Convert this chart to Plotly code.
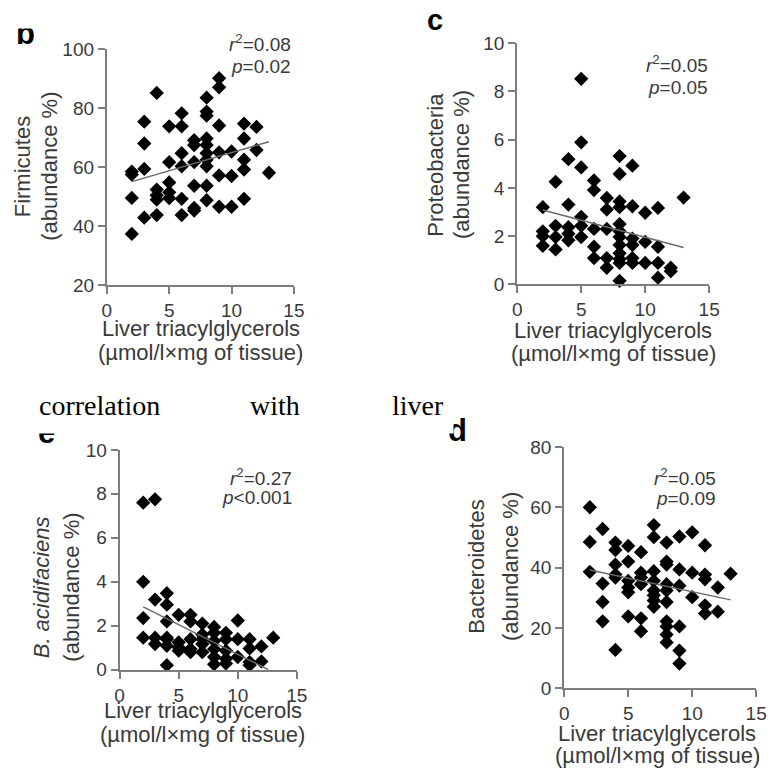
import plotly.graph_objects as go

W, H = 776, 781

# ---------------- data ----------------
# Panel b: Firmicutes
firm_x = [2, 2, 2, 2,
          3, 3, 3, 3,
          4, 4, 4, 4, 4,
          5, 5, 5, 5, 5,
          6, 6, 6, 6, 6, 6,
          7, 7, 7, 7, 7, 7,
          8, 8, 8, 8, 8, 8, 8, 8, 8, 8,
          9, 9, 9, 9, 9, 9,
          10, 10, 10,
          11, 11, 11, 11, 11,
          12, 12,
          13]
firm_y = [58.5, 57.5, 49.6, 37.4,
          75.4, 68.0, 59.4, 42.9,
          85.1, 52.4, 50.5, 49.0, 43.8,
          73.8, 61.7, 54.8, 51.5, 49.5,
          78.2, 73.8, 64.7, 60.3, 49.3, 43.8,
          69.1, 67.5, 61.7, 53.7, 46.2, 45.3,
          83.5, 78.8, 77.4, 69.7, 67.5, 64.7, 62.5, 60.3, 53.7, 48.8,
          90.1, 87.0, 74.1, 65.0, 57.2, 46.6,
          65.3, 57.0, 46.6,
          74.7, 69.7, 62.5, 59.2, 49.3,
          73.6, 65.8,
          58.1]
firm_fit_x = [2, 13]
firm_fit_y = [55.1, 68.6]

# Panel c: Proteobacteria
prot_x = [2, 2, 2, 2,
          3, 3, 3, 3,
          4, 4, 4, 4, 4,
          5, 5, 5, 5, 5, 5,
          6, 6, 6, 6, 6,
          7, 7, 7, 7, 7,
          8, 8, 8, 8, 8, 8, 8, 8, 8, 8, 8, 8,
          9, 9, 9, 9, 9, 9,
          10, 10, 10,
          11, 11, 11, 11,
          12, 12,
          13]
prot_y = [3.2, 2.2, 2.0, 1.6,
          4.25, 2.43, 1.96, 1.45,
          5.19, 3.31, 2.37, 2.1, 1.83,
          8.52, 5.89, 4.85, 2.8, 2.43, 1.96,
          4.31, 3.91, 2.3, 1.56, 1.09,
          3.58, 3.1, 2.3, 1.09, 0.69,
          5.32, 4.58, 3.44, 3.2, 2.5, 2.2, 1.96, 1.63, 1.29, 1.05, 0.89, 0.15,
          4.92, 3.24, 1.9, 1.63, 1.09, 0.89,
          2.97, 1.76, 0.89,
          3.17, 1.56, 0.89, 0.28,
          0.69, 0.55,
          3.6]
prot_fit_x = [2, 13]
prot_fit_y = [3.08, 1.53]

# Panel e: B. acidifaciens
bac_x = [2, 2, 2, 2,
         3, 3, 3, 3,
         4, 4, 4, 4, 4, 4, 4,
         5, 5, 5, 5,
         6, 6, 6, 6, 6,
         7, 7, 7, 7, 7,
         8, 8, 8, 8, 8, 8,
         9, 9, 9, 9, 9,
         10, 10, 10,
         11, 11, 11, 11,
         12, 12,
         13]
bac_y = [7.6, 4.0, 2.35, 1.46,
         7.75, 3.19, 1.46, 1.17,
         3.48, 2.96, 2.2, 1.46, 1.39, 1.09, 0.21,
         2.5, 1.25, 1.02, 0.87,
         2.5, 2.2, 1.39, 0.94, 0.8,
         2.1, 1.6, 1.39, 1.17, 0.8,
         1.95, 1.68, 1.31, 0.94, 0.58, 0.25,
         1.68, 1.39, 0.87, 0.5, 0.28,
         2.24, 1.39, 0.58,
         1.39, 0.97, 0.35, 0.21,
         1.06, 0.38,
         1.46]
bac_fit_x = [2, 12.6]
bac_fit_y = [2.86, 0.0]

# Panel d: Bacteroidetes
bact_x = [2, 2, 2,
          3, 3, 3, 3,
          4, 4, 4, 4, 4, 4,
          5, 5, 5, 5, 5, 5,
          6, 6, 6, 6, 6, 6,
          7, 7, 7, 7, 7, 7, 7, 7,
          8, 8, 8, 8, 8, 8, 8, 8, 8, 8,
          9, 9, 9, 9, 9, 9,
          10, 10, 10,
          11, 11, 11, 11, 11,
          12, 12,
          13]
bact_y = [60.0, 48.5, 38.6,
          52.8, 34.7, 28.6, 22.2,
          48.3, 45.8, 41.0, 37.7, 36.7, 12.7,
          47.2, 42.0, 35.6, 33.4, 31.8, 23.8,
          45.1, 38.3, 36.7, 34.5, 23.2, 18.9,
          54.1, 50.1, 38.8, 35.6, 32.4, 30.8, 29.1, 27.0,
          48.3, 42.0, 41.0, 34.5, 32.4, 28.6, 22.2, 20.5, 17.8, 15.2,
          50.3, 39.4, 34.0, 20.5, 12.5, 8.2,
          51.7, 38.3, 30.2,
          47.4, 37.7, 36.1, 27.5, 24.8,
          33.4, 25.4,
          38.0]
bact_fit_x = [2, 13]
bact_fit_y = [39.2, 29.3]

x_ticks = [0, 5, 10, 15]
firm_ticks = [20, 40, 60, 80, 100]
prot_ticks = [0, 2, 4, 6, 8, 10]
bac_ticks = [0, 2, 4, 6, 8, 10]
bact_ticks = [0, 20, 40, 60, 80]

# ---------------- styling helpers ----------------
FONT = "Liberation Sans"
AXIS_C = "#7d7d7d"
TXT_C = "#3a3a3a"


def px(x):
    return x / W


def py(y):
    return 1 - y / H


def xaxis(x0, x1, anchor):
    return dict(domain=[px(x0), px(x1)], range=[0, 15], tickvals=x_ticks,
                showline=True, linecolor=AXIS_C, linewidth=2, anchor=anchor,
                ticks="outside", ticklen=7, tickwidth=2, tickcolor=AXIS_C,
                showgrid=False, zeroline=False,
                tickfont=dict(family=FONT, size=19, color=TXT_C))


def yaxis(y_top, y_bot, rng, ticks, anchor):
    return dict(domain=[py(y_bot), py(y_top)], range=rng, tickvals=ticks,
                showline=True, linecolor=AXIS_C, linewidth=2, anchor=anchor,
                ticks="outside", ticklen=7, tickwidth=2, tickcolor=AXIS_C,
                showgrid=False, zeroline=False,
                tickfont=dict(family=FONT, size=19, color=TXT_C))


fig = go.Figure()

panels = [
    ("x", "y", firm_x, firm_y, firm_fit_x, firm_fit_y),
    ("x2", "y2", prot_x, prot_y, prot_fit_x, prot_fit_y),
    ("x3", "y3", bac_x, bac_y, bac_fit_x, bac_fit_y),
    ("x4", "y4", bact_x, bact_y, bact_fit_x, bact_fit_y),
]
for xa, ya, xs, ys, fx, fy in panels:
    fig.add_trace(go.Scatter(x=xs, y=ys, xaxis=xa, yaxis=ya, mode="markers",
                             cliponaxis=False,
                             marker=dict(symbol="diamond", size=11, color="black",
                                         line=dict(width=0))))
    fig.add_trace(go.Scatter(x=fx, y=fy, xaxis=xa, yaxis=ya, mode="lines",
                             cliponaxis=False,
                             line=dict(color="#6a6a6a", width=1.5)))

ann = []


def text(x, y, s, size=22, xanchor="center", angle=0, color=TXT_C, family=FONT, **kw):
    ann.append(dict(x=px(x), y=py(y), xref="paper", yref="paper", text=s,
                    showarrow=False, xanchor=xanchor, yanchor="middle",
                    textangle=angle, font=dict(family=family, size=size, color=color), **kw))


# panel letters (b and e are partly hidden in the source figure)
text(21, 24, "<b>b</b>", size=31, color="black")
ann.append(dict(x=0, y=1, xref="paper", yref="paper", text=" ", showarrow=False,
                xanchor="left", yanchor="top", width=70, height=15, bgcolor="white"))
text(439, 10, "<b>c</b>", size=29, color="black")
text(42, 434, "<b>e</b>", size=31, color="black")
text(462, 432, "<b>d</b>", size=31, color="black")

# overlaid body text
ann.append(dict(x=px(20), y=py(384), xref="paper", yref="paper", text=" ", showarrow=False,
                xanchor="left", yanchor="top", width=425, height=46, bgcolor="white"))
text(33, 406, "correlation", size=28, xanchor="left", color="black", family="Liberation Serif")
text(248, 406, "with", size=28, xanchor="left", color="black", family="Liberation Serif")
text(393, 406, "liver", size=28, xanchor="left", color="black", family="Liberation Serif")

# x titles
for cx, y1, y2 in [(200, 327, 352), (621, 329, 353), (202, 720, 745), (666, 743, 766)]:
    text(cx, y1, "Liver triacylglycerols", size=22)
    text(cx, y2, "(µmol/l×mg of tissue)", size=22)

# y titles
for l1, x1, x2, cy in [("Firmicutes", 18, 46, 161), ("Proteobacteria", 440, 466, 159),
                       ("<i>B. acidifaciens</i>", 37, 67, 593), ("Bacteroidetes", 482, 516, 572)]:
    text(x1, cy, l1, size=22, angle=-90)
    text(x2, cy, "(abundance %)", size=22, angle=-90)

# stats
for rx, y1, y2, s1, s2 in [(294, 34, 58, "<i>r</i><sup>2</sup>=0.08", "<i>p</i>=0.02"),
                           (720, 55, 80, "<i>r</i><sup>2</sup>=0.05", "<i>p</i>=0.05"),
                           (295, 480, 501, "<i>r</i><sup>2</sup>=0.27", "<i>p</i>&lt;0.001"),
                           (728, 480, 502, "<i>r</i><sup>2</sup>=0.05", "<i>p</i>=0.09")]:
    text(rx, y1, s1, size=19, xanchor="right")
    text(rx, y2, s2, size=19, xanchor="right")

fig.update_layout(
    width=W, height=H, margin=dict(l=0, r=0, t=0, b=0, pad=0),
    paper_bgcolor="white", plot_bgcolor="white", showlegend=False,
    xaxis=xaxis(104, 295, "y"), yaxis=yaxis(40, 283, [20, 100], firm_ticks, "x"),
    xaxis2=xaxis(523, 719, "y2"), yaxis2=yaxis(34, 282, [0, 10], prot_ticks, "x2"),
    xaxis3=xaxis(117, 298, "y3"), yaxis3=yaxis(452, 678, [0, 10], bac_ticks, "x3"),
    xaxis4=xaxis(571, 767, "y4"), yaxis4=yaxis(449, 697, [0, 80], bact_ticks, "x4"),
    annotations=ann,
)

fig.write_html("out.html", config={"displayModeBar": False},
               post_script="document.body.style.margin='0';document.body.style.overflow='hidden';")
